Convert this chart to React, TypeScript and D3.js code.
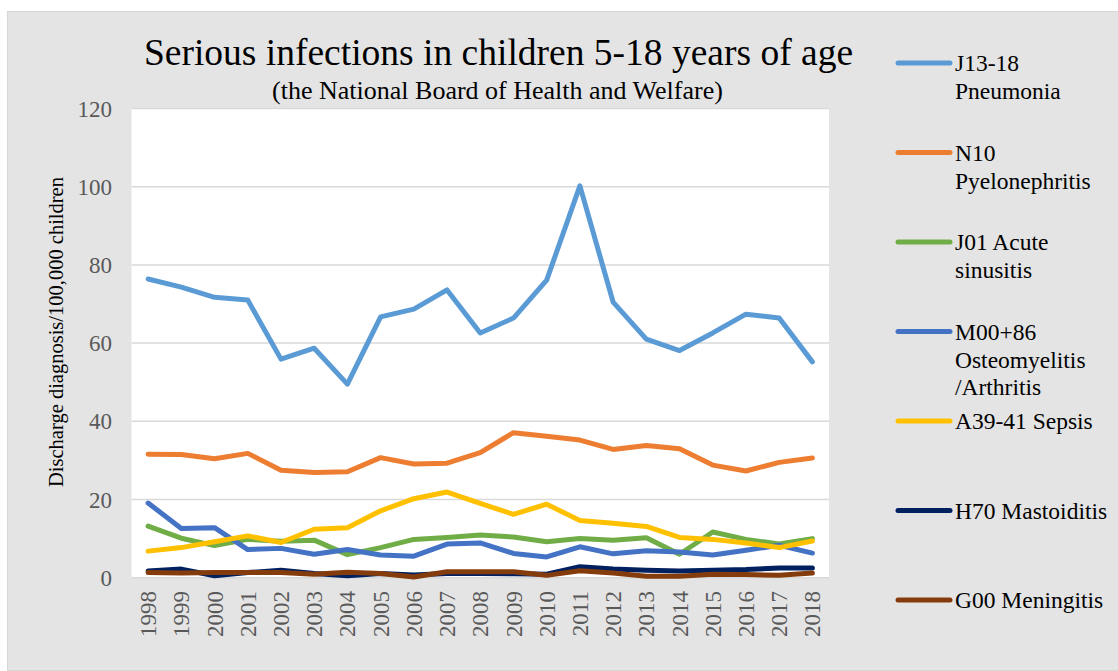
import React, { useEffect, useRef } from "react";
import * as d3 from "d3";

const years = [
  "1998", "1999", "2000", "2001", "2002", "2003", "2004", "2005", "2006", "2007", "2008",
  "2009", "2010", "2011", "2012", "2013", "2014", "2015", "2016", "2017", "2018",
];

const pneumonia = [76.4, 74.3, 71.7, 71.0, 55.9, 58.7, 49.5, 66.7, 68.7, 73.6, 62.6, 66.4, 76.1, 100.2, 70.5, 61.0, 58.1, 62.6, 67.4, 66.4, 55.2];
const pyelonephritis = [31.6, 31.5, 30.4, 31.8, 27.5, 26.9, 27.1, 30.7, 29.1, 29.3, 32.0, 37.1, 36.2, 35.2, 32.8, 33.8, 33.0, 28.8, 27.3, 29.5, 30.6];
const sinusitis = [13.2, 10.1, 8.2, 9.8, 9.3, 9.6, 5.9, 7.7, 9.8, 10.3, 10.9, 10.4, 9.2, 10.0, 9.6, 10.2, 6.0, 11.7, 9.8, 8.6, 10.0];
const osteomyelitis = [19.1, 12.6, 12.8, 7.2, 7.5, 6.0, 7.2, 5.8, 5.5, 8.6, 8.9, 6.2, 5.3, 7.9, 6.1, 6.9, 6.6, 5.8, 7.0, 8.3, 6.3];
const sepsis = [6.8, 7.7, 9.2, 10.7, 9.0, 12.4, 12.8, 17.1, 20.2, 21.9, 19.0, 16.2, 18.8, 14.6, 13.9, 13.1, 10.3, 9.8, 8.9, 7.7, 9.4];
const mastoiditis = [1.7, 2.2, 0.5, 1.3, 1.9, 1.1, 0.5, 1.1, 0.7, 1.1, 1.1, 1.0, 0.9, 2.8, 2.2, 1.9, 1.7, 1.9, 2.1, 2.5, 2.5];
const meningitis = [1.3, 1.2, 1.3, 1.3, 1.3, 0.9, 1.4, 1.1, 0.2, 1.5, 1.5, 1.5, 0.6, 1.8, 1.2, 0.4, 0.4, 0.9, 0.8, 0.6, 1.2];

const seriesNames = [
  ["J13-18", "Pneumonia"],
  ["N10", "Pyelonephritis"],
  ["J01 Acute", "sinusitis"],
  ["M00+86", "Osteomyelitis", "/Arthritis"],
  ["A39-41 Sepsis"],
  ["H70 Mastoiditis"],
  ["G00 Meningitis"],
];
const seriesValues = [pneumonia, pyelonephritis, sinusitis, osteomyelitis, sepsis, mastoiditis, meningitis];
const seriesColors = ["#5B9BD5", "#ED7D31", "#70AD47", "#4472C4", "#FFC000", "#002060", "#843C0C"];

const yTicks = [0, 20, 40, 60, 80, 100, 120];

const chartTitle = "Serious infections in children 5-18 years of age";
const chartSubtitle = "(the National Board of Health and Welfare)";
const yAxisTitle = "Discharge diagnosis/100,000 children";

const W = 1118;
const H = 671;
const FONT = "'Liberation Serif', 'Times New Roman', serif";

export default function App() {
  const ref = useRef<SVGSVGElement | null>(null);

  useEffect(() => {
    const svg = d3.select(ref.current);
    svg.selectAll("*").remove();

    const plot = { left: 131.5, right: 829, top: 108.5, bottom: 577.7 };

    // outer chart panel
    svg.append("rect")
      .attr("x", 7.5).attr("y", 11.5)
      .attr("width", W).attr("height", H - 12)
      .attr("fill", "#E4E4E4")
      .attr("stroke", "#D6D6D6");

    // plot area
    svg.append("rect")
      .attr("x", plot.left).attr("y", plot.top)
      .attr("width", plot.right - plot.left).attr("height", plot.bottom - plot.top)
      .attr("fill", "#FFFFFF");

    const x = d3.scaleBand<string>().domain(years).range([plot.left, plot.right]);
    const y = d3.scaleLinear().domain([0, 120]).range([plot.bottom, plot.top]);

    // gridlines
    svg.append("g").selectAll("line").data(yTicks).join("line")
      .attr("x1", plot.left).attr("x2", plot.right)
      .attr("y1", (d) => y(d)).attr("y2", (d) => y(d))
      .attr("stroke", "#D9D9D9").attr("stroke-width", 1.5);

    // y tick labels
    svg.append("g").selectAll("text").data(yTicks).join("text")
      .attr("x", 112).attr("y", (d) => y(d))
      .attr("dy", "0.35em")
      .attr("text-anchor", "end")
      .attr("font-family", FONT).attr("font-size", 23)
      .attr("fill", "#595959")
      .text((d) => String(d));

    // x tick labels, rotated
    svg.append("g").selectAll("text").data(years).join("text")
      .attr("transform", (d) => `translate(${(x(d) ?? 0) + x.bandwidth() / 2},591) rotate(-90)`)
      .attr("dy", "0.35em")
      .attr("text-anchor", "end")
      .attr("font-family", FONT).attr("font-size", 23)
      .attr("fill", "#595959")
      .text((d) => d);

    // y axis title
    svg.append("text")
      .attr("transform", `translate(56,332) rotate(-90)`)
      .attr("dy", "0.35em")
      .attr("text-anchor", "middle")
      .attr("font-family", FONT).attr("font-size", 20.5)
      .attr("fill", "#000")
      .text(yAxisTitle);

    // title + subtitle
    svg.append("text")
      .attr("x", 498.5).attr("y", 65)
      .attr("text-anchor", "middle")
      .attr("font-family", FONT).attr("font-size", 37.5)
      .attr("fill", "#000")
      .text(chartTitle);
    svg.append("text")
      .attr("x", 497.5).attr("y", 98.5)
      .attr("text-anchor", "middle")
      .attr("font-family", FONT).attr("font-size", 26)
      .attr("fill", "#000")
      .text(chartSubtitle);

    // series lines
    const line = d3.line<number>()
      .x((_, i) => (x(years[i]) ?? 0) + x.bandwidth() / 2)
      .y((d) => y(d));

    seriesValues.forEach((vals, k) => {
      svg.append("path")
        .datum(vals)
        .attr("d", line)
        .attr("fill", "none")
        .attr("stroke", seriesColors[k])
        .attr("stroke-width", 5)
        .attr("stroke-linejoin", "round")
        .attr("stroke-linecap", "round");
    });

    // legend
    const legendY = d3.scaleLinear().domain([0, seriesNames.length - 1]).range([63, 600]);
    seriesNames.forEach((lines, k) => {
      const ly = legendY(k);
      svg.append("line")
        .attr("x1", 898).attr("x2", 950)
        .attr("y1", ly).attr("y2", ly)
        .attr("stroke", seriesColors[k])
        .attr("stroke-width", 5)
        .attr("stroke-linecap", "round");
      lines.forEach((t, j) => {
        svg.append("text")
          .attr("x", 955).attr("y", ly + j * 27.8)
          .attr("dy", "0.35em")
          .attr("font-family", FONT).attr("font-size", 23.5)
          .attr("fill", "#000")
          .text(t);
      });
    });
  }, []);

  return (
    <div style={{ position: "absolute", left: 0, top: 0 }}>
      <svg ref={ref} width={W} height={H} style={{ display: "block" }} />
    </div>
  );
}
